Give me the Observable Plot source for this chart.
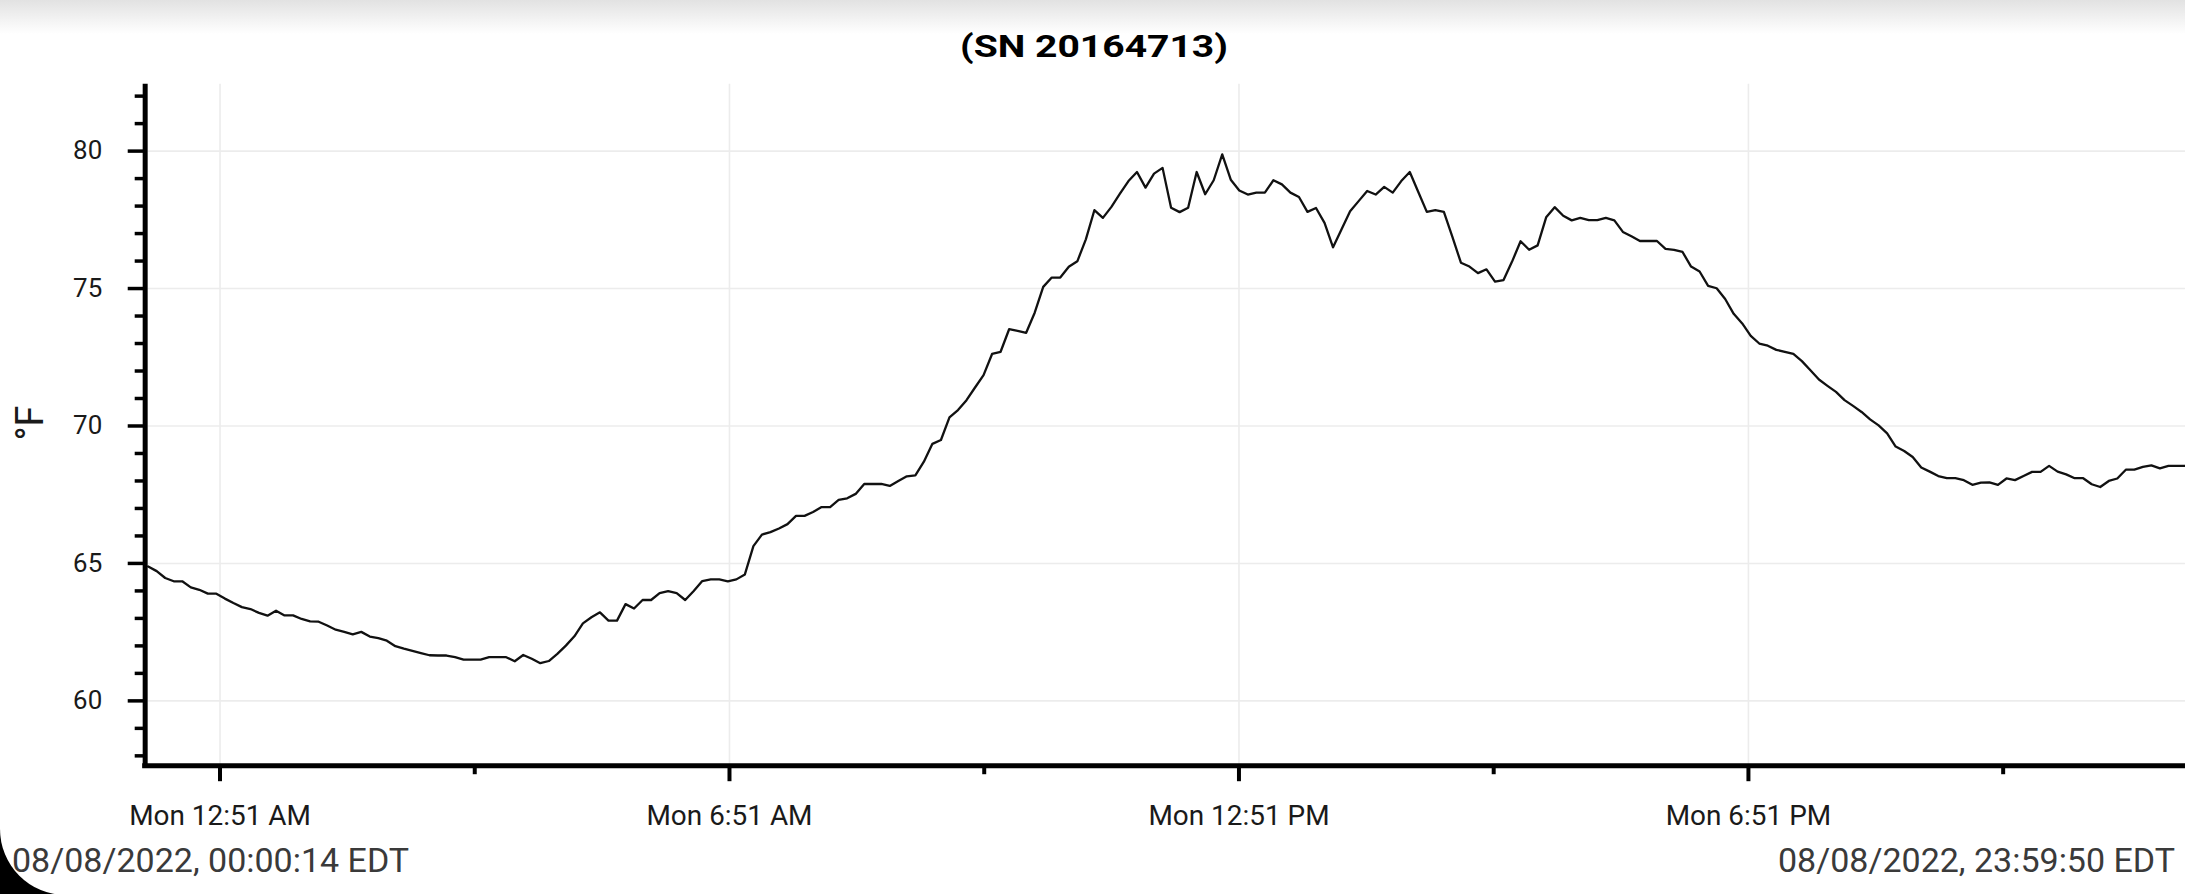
<!DOCTYPE html>
<html>
<head>
<meta charset="utf-8">
<script src="https://cdn.jsdelivr.net/npm/d3@7"></script>
<script src="https://cdn.jsdelivr.net/npm/@observablehq/plot@0.6"></script>
<style>
  html, body { margin: 0; padding: 0; background: #fff; width: 2185px; height: 894px; overflow: hidden; font-family: Roboto, sans-serif; }
  #topbar { position: absolute; left: 0; top: 0; width: 2185px; height: 34px; background: linear-gradient(#e2e2e2, #f2f2f2 55%, #ffffff); }
  #corner-black { position: absolute; left: 0; top: 800px; width: 90px; height: 94px; background: #000; }
  #corner-white { position: absolute; left: 0; top: 700px; width: 300px; height: 195px; background: #fff; border-bottom-left-radius: 66px; }
  #title { position: absolute; left: 1094px; top: 30.5px; line-height: 31px; font-size: 31px; font-weight: 700; color: #000; white-space: nowrap; transform: translateX(-50%) scaleX(1.26); transform-origin: center; }
  #chart { position: absolute; left: 0; top: 0; }
  .caption { position: absolute; top: 843.4px; line-height: 34px; font-size: 34px; color: #3a3a3a; white-space: nowrap; }
  #cap-left { left: 12px; }
  #cap-right { right: 10px; }
</style>
</head>
<body>
<div id="topbar"></div>
<div id="corner-black"></div>
<div id="corner-white"></div>
<div id="chart"></div>
<div id="title"></div>
<div id="cap-left" class="caption"></div>
<div id="cap-right" class="caption"></div>
<script>
// ---- Data ----
const titleText = "(SN 20164713)";
const unitLabel = "°F";
const startLabel = "08/08/2022, 00:00:14 EDT";
const endLabel = "08/08/2022, 23:59:50 EDT";

// first and last reading (local EDT wall-clock time, stored as UTC to avoid TZ shifts)
const startTime = Date.UTC(2022, 7, 8, 0, 0, 14);
const endTime = Date.UTC(2022, 7, 8, 23, 59, 50);

// temperature readings, °F, evenly spaced between startTime and endTime
const temperatureF = [
  64.89, 64.72, 64.47, 64.35, 64.35, 64.13, 64.04, 63.90, 63.90, 63.72,
  63.56, 63.41, 63.34, 63.20, 63.10, 63.28, 63.11, 63.11, 62.98, 62.89,
  62.88, 62.74, 62.59, 62.51, 62.42, 62.51, 62.34, 62.28, 62.19, 61.99,
  61.90, 61.82, 61.74, 61.66, 61.65, 61.65, 61.59, 61.50, 61.50, 61.50,
  61.59, 61.59, 61.59, 61.44, 61.67, 61.53, 61.37, 61.45, 61.71, 62.01,
  62.35, 62.82, 63.04, 63.22, 62.92, 62.92, 63.52, 63.36, 63.67, 63.67,
  63.92, 63.99, 63.92, 63.67, 64.00, 64.36, 64.42, 64.42, 64.35, 64.42,
  64.60, 65.63, 66.05, 66.14, 66.27, 66.43, 66.73, 66.73, 66.87, 67.05,
  67.05, 67.31, 67.37, 67.53, 67.89, 67.89, 67.89, 67.82, 68.00, 68.17,
  68.20, 68.70, 69.35, 69.49, 70.31, 70.58, 70.94, 71.40, 71.85, 72.62,
  72.70, 73.52, 73.46, 73.39, 74.12, 75.06, 75.40, 75.40, 75.79, 75.99,
  76.79, 77.85, 77.57, 77.97, 78.45, 78.91, 79.24, 78.67, 79.18, 79.39,
  77.94, 77.78, 77.94, 79.24, 78.43, 78.94, 79.88, 78.96, 78.57, 78.42,
  78.49, 78.49, 78.94, 78.79, 78.49, 78.33, 77.79, 77.93, 77.39, 76.50,
  77.16, 77.81, 78.18, 78.55, 78.42, 78.70, 78.49, 78.91, 79.24, 78.51,
  77.79, 77.85, 77.79, 76.88, 75.94, 75.80, 75.56, 75.70, 75.25, 75.31,
  75.98, 76.72, 76.41, 76.57, 77.59, 77.96, 77.65, 77.48, 77.57, 77.49,
  77.49, 77.57, 77.48, 77.06, 76.90, 76.73, 76.73, 76.73, 76.44, 76.41,
  76.33, 75.80, 75.62, 75.10, 75.01, 74.62, 74.08, 73.73, 73.28, 73.00,
  72.92, 72.77, 72.70, 72.62, 72.36, 72.03, 71.69, 71.46, 71.24, 70.94,
  70.73, 70.51, 70.24, 70.02, 69.73, 69.25, 69.09, 68.87, 68.49, 68.34,
  68.18, 68.10, 68.10, 68.03, 67.86, 67.94, 67.95, 67.86, 68.09, 68.03,
  68.18, 68.33, 68.33, 68.55, 68.34, 68.24, 68.10, 68.10, 67.88, 67.78,
  68.00, 68.09, 68.41, 68.41, 68.51, 68.57, 68.46, 68.55, 68.55, 68.55
];

// axis ticks
const majorTimeTicks = [
  Date.UTC(2022, 7, 8, 0, 51), Date.UTC(2022, 7, 8, 6, 51),
  Date.UTC(2022, 7, 8, 12, 51), Date.UTC(2022, 7, 8, 18, 51)
];
const majorTimeLabels = ["Mon 12:51 AM", "Mon 6:51 AM", "Mon 12:51 PM", "Mon 6:51 PM"];
const minorTimeTicks = [
  Date.UTC(2022, 7, 8, 3, 51), Date.UTC(2022, 7, 8, 9, 51),
  Date.UTC(2022, 7, 8, 15, 51), Date.UTC(2022, 7, 8, 21, 51)
];
const majorTempTicks = [60, 65, 70, 75, 80];
const minorTempTicks = [58, 59, 61, 62, 63, 64, 66, 67, 68, 69, 71, 72, 73, 74, 76, 77, 78, 79, 81, 82];
const tempDomain = [57.64, 82.43];

// ---- Build ----
const stepMs = (endTime - startTime) / (temperatureF.length - 1);
const readings = temperatureF.map((v, i) => ({time: new Date(startTime + i * stepMs), value: v}));
const majorDates = majorTimeTicks.map(t => new Date(t));
const minorDates = minorTimeTicks.map(t => new Date(t));

const chart = Plot.plot({
  width: 2190,
  height: 894,
  marginLeft: 148,
  marginRight: 0,
  marginTop: 84,
  marginBottom: 127,
  style: {fontFamily: "Roboto, sans-serif", background: "transparent", color: "#1a1a1a", overflow: "visible"},
  x: {type: "utc", domain: [new Date(startTime), new Date(endTime)], label: null},
  y: {domain: tempDomain, label: null},
  marks: [
    Plot.gridY(majorTempTicks, {stroke: "#ececec", strokeOpacity: 1, strokeWidth: 1.6}),
    Plot.gridX(majorDates, {stroke: "#ececec", strokeOpacity: 1, strokeWidth: 1.6}),
    Plot.line(readings, {x: "time", y: "value", stroke: "#111", strokeWidth: 2.3}),
    // axis lines
    Plot.ruleX([new Date(startTime)], {dx: -3, stroke: "#000", strokeWidth: 5, insetBottom: -2.5}),
    Plot.ruleY([tempDomain[0]], {stroke: "#000", strokeWidth: 5, insetLeft: -5.5}),
    // y ticks
    Plot.axisY(majorTempTicks, {anchor: "left", dx: -3, tickSize: 17, tickPadding: 26, strokeWidth: 3.5, stroke: "#000", fill: "#1a1a1a", fontSize: 26, label: null, tickFormat: d => String(d)}),
    Plot.axisY(minorTempTicks, {anchor: "left", dx: -3, tickSize: 10, strokeWidth: 3.5, stroke: "#000", fill: "none", label: null}),
    // x ticks
    Plot.axisX(majorDates, {anchor: "bottom", tickSize: 16, tickPadding: 23.5, strokeWidth: 4, stroke: "#000", fill: "#1a1a1a", fontSize: 28, label: null, tickFormat: (d, i) => majorTimeLabels[i]}),
    Plot.axisX(minorDates, {anchor: "bottom", tickSize: 9, strokeWidth: 4, stroke: "#000", fill: "none", label: null})
  ]
});

document.getElementById("chart").appendChild(chart);

// unit label (rotated)
d3.select(chart).append("text")
  .attr("transform", "translate(43.5,424) rotate(-90)")
  .attr("text-anchor", "middle")
  .attr("font-family", "Roboto, sans-serif")
  .attr("font-size", 38)
  .attr("fill", "#1a1a1a")
  .text(unitLabel);

document.getElementById("title").textContent = titleText;
document.getElementById("cap-left").textContent = startLabel;
document.getElementById("cap-right").textContent = endLabel;
</script>
</body>
</html>
